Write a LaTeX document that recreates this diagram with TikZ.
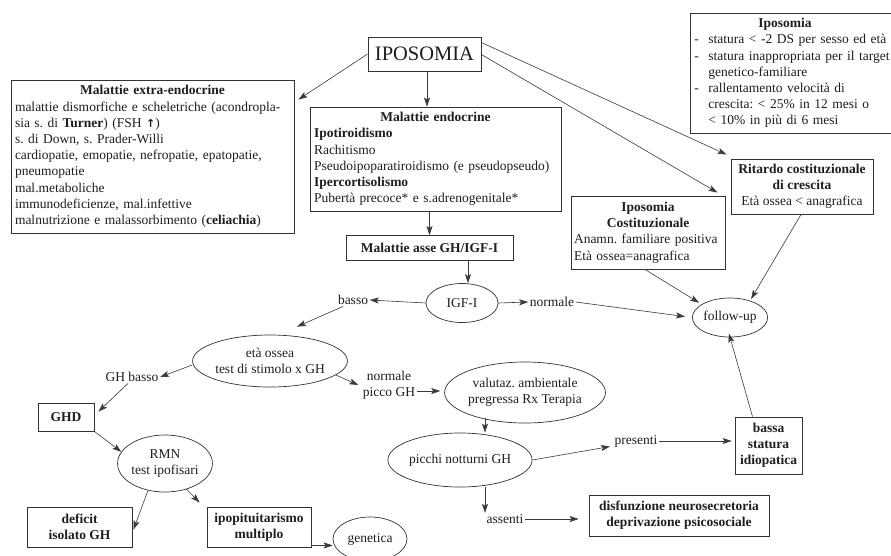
\documentclass[tikz,border=0pt]{standalone}
\usepackage{fontspec}
\setmainfont{Liberation Serif}
\newfontfamily\symfont{DejaVu Sans}
\usetikzlibrary{shapes.geometric,arrows.meta}
\definecolor{ink}{HTML}{1E1E1E}
\definecolor{edge}{HTML}{333333}
\definecolor{wire}{HTML}{3A3A3A}
\frenchspacing

\begin{document}
\begin{tikzpicture}[x=1pt,y=-1pt,
  basefont/.style={font=\fontsize{13.5}{16.2}\selectfont},
  boldfont/.style={font=\fontsize{13.5}{16.2}\selectfont\bfseries},
  lbl/.style={basefont, text=ink, inner sep=1.5pt},
  box/.style={basefont, text=ink, draw=edge, line width=0.9pt, inner sep=4pt},
  oval/.style={basefont, text=ink, ellipse, draw=edge, line width=0.7pt, inner sep=0pt, align=center},
  arr/.style={draw=wire, line width=0.6pt, -{Stealth[length=9pt,width=6pt,inset=2pt]}},
]
\useasboundingbox (0,0) rectangle (891,555);
\fill[white] (0,0) rectangle (891,555);
\clip (0,0) rectangle (891,555);

% --- root and first level ---
\node[box, minimum width=113pt, minimum height=34pt, font=\fontsize{20.5}{24}\selectfont] (ipo) at (424.5,54) {IPOSOMIA};

\node[box, text width=275pt, minimum height=153pt, align=left] (extra) at (152.5,156.5) {%
{\centering\bfseries Malattie extra-endocrine\par}
malattie dismorfiche e scheletriche (acondropla-\\
sia s. di \textbf{Turner}) (FSH {\symfont\bfseries\fontsize{11}{16.2}\selectfont ↑})\\
s. di Down, s. Prader-Willi\\
cardiopatie, emopatie, nefropatie, epatopatie,\\
pneumopatie\\
mal.metaboliche\\
immunodeficienze, mal.infettive\\
malnutrizione e malassorbimento (\textbf{celiachia})};

\node[box, text width=243pt, minimum height=104pt, align=left] (endo) at (435.5,159) {%
{\centering\bfseries Malattie endocrine\par}
\textbf{Ipotiroidismo}\\
Rachitismo\\
Pseudoipoparatiroidismo (e pseudopseudo)\\
\textbf{Ipercortisolismo}\\
Pubertà precoce* e s.adrenogenitale*};

% definition box; its right side runs past the page edge
\node[box, text width=210pt, minimum height=120pt, align=left, anchor=west] (def) at (690,73) {%
\hspace*{64pt}\textbf{Iposomia}\\
\makebox[14pt][l]{-}statura < -2 DS per sesso ed età\\
\makebox[14pt][l]{-}statura inappropriata per il target\\
\hspace*{14pt}genetico-familiare\\
\makebox[14pt][l]{-}rallentamento velocità di\\
\hspace*{14pt}crescita: < 25\% in 12 mesi o\\
\hspace*{14pt}< 10\% in più di 6 mesi};

\node[box, minimum width=142pt, minimum height=55pt, align=center, inner sep=3pt] (ritardo) at (802,186.5) {%
\textbf{Ritardo costituzionale}\\ \textbf{di crescita}\\ Età ossea < anagrafica};

\node[box, text width=148pt, minimum height=73pt, align=left, inner sep=3pt] (costit) at (648,232.5) {%
{\centering\bfseries Iposomia\\ Costituzionale\par}
Anamn. familiare positiva\\
Età ossea=anagrafica};

% --- GH / IGF-I axis ---
\node[box, boldfont, minimum width=167pt, minimum height=25pt] (asse) at (429.5,248) {Malattie asse GH/IGF-I};
\node[oval, minimum width=72pt, minimum height=39pt] (igf) at (462,303) {IGF-I};
\node[lbl] (basso) at (353,300) {basso};
\node[lbl] (normale) at (552,302) {normale};
\node[oval, minimum width=74pt, minimum height=39pt] (follow) at (730,317.5) {follow-up};

\node[oval, minimum width=141pt, minimum height=52pt] (eta) at (270,361) {età ossea\\ test di stimolo x GH};
\node[lbl] (ghbasso) at (132,377) {GH basso};
\node[box, boldfont, minimum width=56pt, minimum height=28pt] (ghd) at (66,417) {GHD};
\node[oval, minimum width=90pt, minimum height=57pt] (rmn) at (165,463.5) {RMN\\ test ipofisari};
\node[box, boldfont, minimum width=105pt, minimum height=40pt, align=center] (deficit) at (79.5,527) {deficit\\ isolato GH};
\node[box, boldfont, minimum width=104pt, minimum height=40pt, align=center, inner sep=2pt] (ipopit) at (259,527) {ipopituitarismo\\ multiplo};
\node[oval, minimum width=74pt, minimum height=44pt] (genetica) at (370,539) {genetica};

\node[lbl, align=center] (normpicco) at (389,385) {normale\\ picco GH};
\node[oval, minimum width=146pt, minimum height=61pt] (valutaz) at (525,392.5) {valutaz. ambientale\\ pregressa Rx Terapia};
\node[oval, minimum width=140pt, minimum height=54pt] (picchi) at (460,460) {picchi notturni GH};
\node[lbl] (presenti) at (636,441) {presenti};
\node[box, boldfont, minimum width=67pt, minimum height=57pt, align=center, inner sep=2pt] (bassa) at (768.5,445.5) {bassa\\ statura\\ idiopatica};
\node[lbl] (assenti) at (505,519) {assenti};
\node[box, boldfont, minimum width=180pt, minimum height=41pt, align=center] (disf) at (679,515.5) {disfunzione neurosecretoria\\ deprivazione psicosociale};

% --- connectors ---
\draw[arr] (ipo.west) -- ([xshift=4pt,yshift=-20pt]extra.north east);
\draw[arr] ([xshift=2.5pt]ipo.south) -- ([xshift=2.5pt]ipo.south |- endo.north);
\draw[arr] ([yshift=-6pt]ipo.north east) -- ([xshift=-4pt,yshift=4pt]ritardo.north west);
\draw[arr] ([yshift=-18pt]ipo.north east) -- ([xshift=-8pt,yshift=3pt]costit.north east);
\draw[arr] (asse.north |- endo.south) -- (asse.north);
\draw[arr] ([xshift=6pt]igf.north |- asse.south) -- ([xshift=6pt]igf.north);
\draw[arr] (igf.west) -- (basso.east);
\draw[arr] (igf.east) -- (normale.west);
\draw[arr, shorten >=7pt] (normale.east) -- (follow.west);
\draw[arr, shorten >=3pt] ([xshift=-3pt]costit.south) -- (follow.155);
\draw[arr, shorten >=2pt] ([xshift=-1pt]ritardo.south) -- (follow.40);
\draw[arr, shorten >=-4pt] ([xshift=-16pt]bassa.north) -- (follow.south);

\draw[arr] ([xshift=-10pt]basso.south) -- ([xshift=27pt,yshift=8pt]eta.north);
\draw[arr] ([yshift=-4pt]eta.west) -- (ghbasso.east);
\draw[arr] ([xshift=-4pt]ghbasso.south) -- ([xshift=4pt,yshift=-9pt]ghd.north east);
\draw[arr] (ghd.south east) -- (rmn.165);
\draw[arr] ([xshift=-17pt,yshift=2pt]rmn.south) -- ([xshift=1pt,yshift=-23pt]deficit.north east);
\draw[arr] (rmn.-50) -- ([xshift=-7pt,yshift=4pt]ipopit.north west);
\draw[arr] ([yshift=2pt]ipopit.south east) -- ([yshift=2pt]ipopit.south east -| genetica.west);

\draw[arr] (eta.-12) -- ([xshift=-3pt]normpicco.west);
\draw[arr, shorten >=4pt] ([yshift=-6pt]normpicco.east) -- ([yshift=-6pt]normpicco.east -| valutaz.west);
\draw[arr] ([xshift=25pt,yshift=5pt]picchi.north |- valutaz.south) -- ([xshift=25pt]picchi.north);
\draw[arr, shorten >=3pt] (picchi.east) -- ([yshift=-5pt]presenti.west);
\draw[arr, shorten >=3pt] (presenti.east) -- (presenti.east -| bassa.west);
\draw[arr] ([xshift=25pt]picchi.south) -- ([xshift=25pt]picchi.south |- assenti.north);
\draw[arr, shorten >=10pt] (assenti.east) -- (assenti.east -| disf.west);
\end{tikzpicture}
\end{document}
